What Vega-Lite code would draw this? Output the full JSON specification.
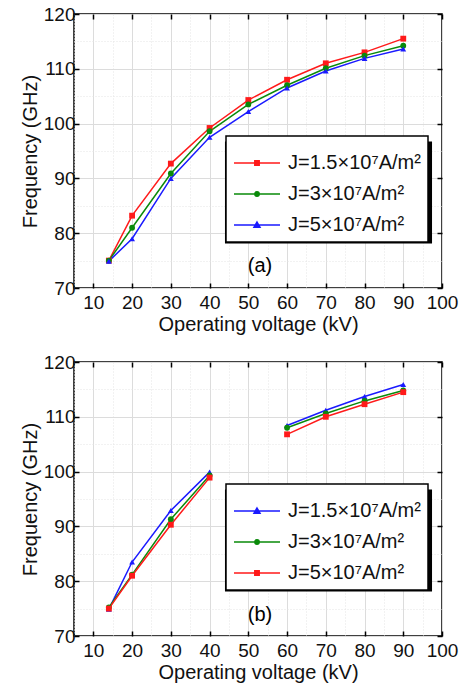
{
  "$schema": "https://vega.github.io/schema/vega-lite/v6.json",
  "background": "white",
  "padding": {"left": 19, "top": 4, "right": 7, "bottom": 5},
  "spacing": 17,
  "config": {
    "font": "Liberation Sans",
    "view": {"stroke": "black", "strokeWidth": 1.5},
    "axis": {"labelFont": "Liberation Sans", "titleFont": "Liberation Sans", "labelColor": "#111", "titleColor": "#111", "titleFontWeight": "normal"}
  },
  "datasets": {
    "a": [
      {"series": "J=1.5×10⁷A/m²", "seg": "s1", "x": 14, "y": 75.0},
      {"series": "J=1.5×10⁷A/m²", "seg": "s1", "x": 20, "y": 83.2},
      {"series": "J=1.5×10⁷A/m²", "seg": "s1", "x": 30, "y": 92.7},
      {"series": "J=1.5×10⁷A/m²", "seg": "s1", "x": 40, "y": 99.2},
      {"series": "J=1.5×10⁷A/m²", "seg": "s1", "x": 50, "y": 104.3},
      {"series": "J=1.5×10⁷A/m²", "seg": "s1", "x": 60, "y": 108.0},
      {"series": "J=1.5×10⁷A/m²", "seg": "s1", "x": 70, "y": 111.0},
      {"series": "J=1.5×10⁷A/m²", "seg": "s1", "x": 80, "y": 113.0},
      {"series": "J=1.5×10⁷A/m²", "seg": "s1", "x": 90, "y": 115.5},
      {"series": "J=3×10⁷A/m²", "seg": "s1", "x": 14, "y": 75.0},
      {"series": "J=3×10⁷A/m²", "seg": "s1", "x": 20, "y": 81.0},
      {"series": "J=3×10⁷A/m²", "seg": "s1", "x": 30, "y": 90.9},
      {"series": "J=3×10⁷A/m²", "seg": "s1", "x": 40, "y": 98.6},
      {"series": "J=3×10⁷A/m²", "seg": "s1", "x": 50, "y": 103.5},
      {"series": "J=3×10⁷A/m²", "seg": "s1", "x": 60, "y": 107.0},
      {"series": "J=3×10⁷A/m²", "seg": "s1", "x": 70, "y": 110.1},
      {"series": "J=3×10⁷A/m²", "seg": "s1", "x": 80, "y": 112.4},
      {"series": "J=3×10⁷A/m²", "seg": "s1", "x": 90, "y": 114.2},
      {"series": "J=5×10⁷A/m²", "seg": "s1", "x": 14, "y": 74.9},
      {"series": "J=5×10⁷A/m²", "seg": "s1", "x": 20, "y": 79.0},
      {"series": "J=5×10⁷A/m²", "seg": "s1", "x": 30, "y": 90.0},
      {"series": "J=5×10⁷A/m²", "seg": "s1", "x": 40, "y": 97.5},
      {"series": "J=5×10⁷A/m²", "seg": "s1", "x": 50, "y": 102.2},
      {"series": "J=5×10⁷A/m²", "seg": "s1", "x": 60, "y": 106.5},
      {"series": "J=5×10⁷A/m²", "seg": "s1", "x": 70, "y": 109.6},
      {"series": "J=5×10⁷A/m²", "seg": "s1", "x": 80, "y": 111.9},
      {"series": "J=5×10⁷A/m²", "seg": "s1", "x": 90, "y": 113.6}
    ],
    "b": [
      {"series": "J=1.5×10⁷A/m²", "seg": "low", "x": 14, "y": 74.9},
      {"series": "J=1.5×10⁷A/m²", "seg": "low", "x": 20, "y": 83.5},
      {"series": "J=1.5×10⁷A/m²", "seg": "low", "x": 30, "y": 92.9},
      {"series": "J=1.5×10⁷A/m²", "seg": "low", "x": 40, "y": 99.9},
      {"series": "J=1.5×10⁷A/m²", "seg": "high", "x": 60, "y": 108.4},
      {"series": "J=1.5×10⁷A/m²", "seg": "high", "x": 70, "y": 111.2},
      {"series": "J=1.5×10⁷A/m²", "seg": "high", "x": 80, "y": 113.7},
      {"series": "J=1.5×10⁷A/m²", "seg": "high", "x": 90, "y": 115.9},
      {"series": "J=3×10⁷A/m²", "seg": "low", "x": 14, "y": 75.2},
      {"series": "J=3×10⁷A/m²", "seg": "low", "x": 20, "y": 81.2},
      {"series": "J=3×10⁷A/m²", "seg": "low", "x": 30, "y": 91.3},
      {"series": "J=3×10⁷A/m²", "seg": "low", "x": 40, "y": 99.3},
      {"series": "J=3×10⁷A/m²", "seg": "high", "x": 60, "y": 108.0},
      {"series": "J=3×10⁷A/m²", "seg": "high", "x": 70, "y": 110.6},
      {"series": "J=3×10⁷A/m²", "seg": "high", "x": 80, "y": 112.9},
      {"series": "J=3×10⁷A/m²", "seg": "high", "x": 90, "y": 114.8},
      {"series": "J=5×10⁷A/m²", "seg": "low", "x": 14, "y": 75.0},
      {"series": "J=5×10⁷A/m²", "seg": "low", "x": 20, "y": 81.0},
      {"series": "J=5×10⁷A/m²", "seg": "low", "x": 30, "y": 90.3},
      {"series": "J=5×10⁷A/m²", "seg": "low", "x": 40, "y": 98.9},
      {"series": "J=5×10⁷A/m²", "seg": "high", "x": 60, "y": 106.8},
      {"series": "J=5×10⁷A/m²", "seg": "high", "x": 70, "y": 110.0},
      {"series": "J=5×10⁷A/m²", "seg": "high", "x": 80, "y": 112.3},
      {"series": "J=5×10⁷A/m²", "seg": "high", "x": 90, "y": 114.5}
    ],
    "la": [{"x": 53, "y": 74, "label": "(a)"}],
    "lb": [{"x": 53, "y": 73.8, "label": "(b)"}]
  },
  "resolve": {"scale": {"color": "independent", "size": "independent"}, "legend": {"color": "independent", "size": "independent"}},
  "vconcat": [
    {
      "width": 368,
      "height": 274,
      "resolve": {"axis": {"x": "independent", "y": "independent"}},
      "layer": [
        {
          "data": {"name": "la"},
          "mark": {"type": "text", "font": "Liberation Sans", "color": "black"},
          "encoding": {
            "x": {"field": "x", "type": "quantitative", "axis": null},
            "y": {"field": "y", "type": "quantitative", "axis": null},
            "text": {"field": "label"},
            "size": {"field": "label", "type": "ordinal", "scale": {"domain": ["(a)"], "range": [20, 20]},
              "legend": {"orient": "none", "legendX": 252, "legendY": 176, "title": null, "padding": 0,
                "labelExpr": "''", "labelFontSize": 1, "labelOffset": 0,
                "symbolType": "M-46.3,-22.8H46.3V22.8H-46.3Z", "symbolFillColor": "black", "symbolStrokeColor": "black", "symbolStrokeWidth": 0, "symbolOpacity": 1}}
          }
        },
        {
          "data": {"name": "a"},
          "mark": {"type": "line", "strokeWidth": 1.5},
          "encoding": {
            "x": {"field": "x", "type": "quantitative", "scale": {"domain": [5, 100], "nice": false, "zero": false},
              "axis": {"orient": "bottom", "values": [5,10,15,20,25,30,35,40,45,50,55,60,65,70,75,80,85,90,95,100],
                "labelExpr": "datum.value % 10 === 0 ? datum.label : ''", "labelFontSize": 19, "labelPadding": 10, "labelFlush": false, "labelOverlap": false,
                "grid": true,
                "gridColor": {"condition": {"test": "datum.value % 10 === 0", "value": "#dcdcdc"}, "value": "#e4e4e4"},
                "gridDash": {"condition": {"test": "datum.value % 10 === 0", "value": []}, "value": [1, 2]},
                "tickSize": -5, "tickWidth": 1.5, "tickColor": "black",
                "tickOpacity": {"condition": {"test": "datum.value % 10 === 0", "value": 1}, "value": 0},
                "domain": false, "title": "Operating voltage (kV)", "titleFontSize": 20, "titlePadding": 2}},
            "y": {"field": "y", "type": "quantitative", "scale": {"domain": [70, 120], "nice": false, "zero": false},
              "axis": {"orient": "left", "values": [70,75,80,85,90,95,100,105,110,115,120],
                "labelExpr": "datum.value % 10 === 0 ? datum.label : ''", "labelFontSize": 19, "labelPadding": 4, "labelFlush": false, "labelOverlap": false,
                "grid": true,
                "gridColor": {"condition": {"test": "datum.value % 10 === 0", "value": "#dcdcdc"}, "value": "#e4e4e4"},
                "gridDash": {"condition": {"test": "datum.value % 10 === 0", "value": []}, "value": [1, 2]},
                "tickSize": -5, "tickWidth": 1.5, "tickColor": "black",
                "tickOpacity": {"condition": {"test": "datum.value % 10 === 0", "value": 1}, "value": 0},
                "domain": false, "title": "Frequency (GHz)", "titleFontSize": 20, "titlePadding": 3}},
            "color": {"field": "series", "type": "nominal",
              "scale": {"domain": ["J=1.5×10⁷A/m²", "J=3×10⁷A/m²", "J=5×10⁷A/m²"], "range": ["#ff1a1a", "#0a8a0a", "#1a1aff"]},
              "legend": {"orient": "none", "legendX": 152, "legendY": 122, "title": " ", "titleFontSize": 4, "titlePadding": 5,
                "strokeColor": "black", "fillColor": "white", "padding": 7,
                "labelFontSize": 20, "labelFont": "Liberation Sans", "labelColor": "#111", "labelLimit": 300,
                "symbolSize": 400, "symbolOffset": 13, "labelOffset": 20, "rowPadding": 10, "symbolStrokeWidth": 1.5,
                "encode": {
                  "legend": {"update": {"strokeWidth": {"value": 1.5}}},
                  "symbols": {"update": {
                    "shape": {"signal": "datum.value === 'J=1.5×10⁷A/m²' ? 'M-2.3,0H2.3M-0.22,-0.22H0.22V0.22H-0.22Z' : datum.value === 'J=3×10⁷A/m²' ? 'M-2.3,0H2.3M0.22,0A0.22,0.22 0 1,1 -0.22,0A0.22,0.22 0 1,1 0.22,0Z' : 'M-2.3,0H2.3M0,-0.3L0.3,0.22L-0.3,0.22Z'"},
                    "fill": {"signal": "datum.value === 'J=1.5×10⁷A/m²' ? '#ff1a1a' : datum.value === 'J=3×10⁷A/m²' ? '#0a8a0a' : '#1a1aff'"},
                    "stroke": {"signal": "datum.value === 'J=1.5×10⁷A/m²' ? '#ff1a1a' : datum.value === 'J=3×10⁷A/m²' ? '#0a8a0a' : '#1a1aff'"},
                    "strokeWidth": {"value": 1.5}
                  }}
                }}},
            "detail": {"field": "seg"},
            "order": {"field": "x"}
          }
        },
        {
          "data": {"name": "a"},
          "transform": [{"filter": "datum.series === 'J=1.5×10⁷A/m²'"}],
          "mark": {"type": "point", "filled": true, "size": 34, "opacity": 1, "shape": "square", "color": "#ff1a1a"},
          "encoding": {
            "x": {"field": "x", "type": "quantitative",
              "axis": {"orient": "top", "values": [10,20,30,40,50,60,70,80,90,100], "labels": false, "grid": false, "domain": false,
                "tickSize": -5, "tickWidth": 1.5, "tickColor": "black", "title": null}},
            "y": {"field": "y", "type": "quantitative",
              "axis": {"orient": "right", "values": [70,80,90,100,110,120], "labels": false, "grid": false, "domain": false,
                "tickSize": -5, "tickWidth": 1.5, "tickColor": "black", "title": null}}
          }
        },
        {
          "data": {"name": "a"},
          "transform": [{"filter": "datum.series === 'J=3×10⁷A/m²'"}],
          "mark": {"type": "point", "filled": true, "size": 34, "opacity": 1, "shape": "circle", "color": "#0a8a0a"},
          "encoding": {
            "x": {"field": "x", "type": "quantitative", "axis": null},
            "y": {"field": "y", "type": "quantitative", "axis": null}
          }
        },
        {
          "data": {"name": "a"},
          "transform": [{"filter": "datum.series === 'J=5×10⁷A/m²'"}],
          "mark": {"type": "point", "filled": true, "size": 34, "opacity": 1, "shape": "triangle-up", "color": "#1a1aff"},
          "encoding": {
            "x": {"field": "x", "type": "quantitative", "axis": null},
            "y": {"field": "y", "type": "quantitative", "axis": null}
          }
        }
      ]
    },
    {
      "width": 368,
      "height": 274,
      "resolve": {"axis": {"x": "independent", "y": "independent"}},
      "layer": [
        {
          "data": {"name": "lb"},
          "mark": {"type": "text", "font": "Liberation Sans", "color": "black"},
          "encoding": {
            "x": {"field": "x", "type": "quantitative", "axis": null},
            "y": {"field": "y", "type": "quantitative", "axis": null},
            "text": {"field": "label"},
            "size": {"field": "label", "type": "ordinal", "scale": {"domain": ["(b)"], "range": [20, 20]},
              "legend": {"orient": "none", "legendX": 252, "legendY": 176, "title": null, "padding": 0,
                "labelExpr": "''", "labelFontSize": 1, "labelOffset": 0,
                "symbolType": "M-46.3,-22.8H46.3V22.8H-46.3Z", "symbolFillColor": "black", "symbolStrokeColor": "black", "symbolStrokeWidth": 0, "symbolOpacity": 1}}
          }
        },
        {
          "data": {"name": "b"},
          "mark": {"type": "line", "strokeWidth": 1.5},
          "encoding": {
            "x": {"field": "x", "type": "quantitative", "scale": {"domain": [5, 100], "nice": false, "zero": false},
              "axis": {"orient": "bottom", "values": [5,10,15,20,25,30,35,40,45,50,55,60,65,70,75,80,85,90,95,100],
                "labelExpr": "datum.value % 10 === 0 ? datum.label : ''", "labelFontSize": 19, "labelPadding": 10, "labelFlush": false, "labelOverlap": false,
                "grid": true,
                "gridColor": {"condition": {"test": "datum.value % 10 === 0", "value": "#dcdcdc"}, "value": "#e4e4e4"},
                "gridDash": {"condition": {"test": "datum.value % 10 === 0", "value": []}, "value": [1, 2]},
                "tickSize": -5, "tickWidth": 1.5, "tickColor": "black",
                "tickOpacity": {"condition": {"test": "datum.value % 10 === 0", "value": 1}, "value": 0},
                "domain": false, "title": "Operating voltage (kV)", "titleFontSize": 20, "titlePadding": 2}},
            "y": {"field": "y", "type": "quantitative", "scale": {"domain": [70, 120], "nice": false, "zero": false},
              "axis": {"orient": "left", "values": [70,75,80,85,90,95,100,105,110,115,120],
                "labelExpr": "datum.value % 10 === 0 ? datum.label : ''", "labelFontSize": 19, "labelPadding": 4, "labelFlush": false, "labelOverlap": false,
                "grid": true,
                "gridColor": {"condition": {"test": "datum.value % 10 === 0", "value": "#dcdcdc"}, "value": "#e4e4e4"},
                "gridDash": {"condition": {"test": "datum.value % 10 === 0", "value": []}, "value": [1, 2]},
                "tickSize": -5, "tickWidth": 1.5, "tickColor": "black",
                "tickOpacity": {"condition": {"test": "datum.value % 10 === 0", "value": 1}, "value": 0},
                "domain": false, "title": "Frequency (GHz)", "titleFontSize": 20, "titlePadding": 3}},
            "color": {"field": "series", "type": "nominal",
              "scale": {"domain": ["J=1.5×10⁷A/m²", "J=3×10⁷A/m²", "J=5×10⁷A/m²"], "range": ["#1a1aff", "#0a8a0a", "#ff1a1a"]},
              "legend": {"orient": "none", "legendX": 152, "legendY": 122, "title": " ", "titleFontSize": 4, "titlePadding": 5,
                "strokeColor": "black", "fillColor": "white", "padding": 7,
                "labelFontSize": 20, "labelFont": "Liberation Sans", "labelColor": "#111", "labelLimit": 300,
                "symbolSize": 400, "symbolOffset": 13, "labelOffset": 20, "rowPadding": 10, "symbolStrokeWidth": 1.5,
                "encode": {
                  "legend": {"update": {"strokeWidth": {"value": 1.5}}},
                  "symbols": {"update": {
                    "shape": {"signal": "datum.value === 'J=5×10⁷A/m²' ? 'M-2.3,0H2.3M-0.22,-0.22H0.22V0.22H-0.22Z' : datum.value === 'J=3×10⁷A/m²' ? 'M-2.3,0H2.3M0.22,0A0.22,0.22 0 1,1 -0.22,0A0.22,0.22 0 1,1 0.22,0Z' : 'M-2.3,0H2.3M0,-0.3L0.3,0.22L-0.3,0.22Z'"},
                    "fill": {"signal": "datum.value === 'J=5×10⁷A/m²' ? '#ff1a1a' : datum.value === 'J=3×10⁷A/m²' ? '#0a8a0a' : '#1a1aff'"},
                    "stroke": {"signal": "datum.value === 'J=5×10⁷A/m²' ? '#ff1a1a' : datum.value === 'J=3×10⁷A/m²' ? '#0a8a0a' : '#1a1aff'"},
                    "strokeWidth": {"value": 1.5}
                  }}
                }}},
            "detail": {"field": "seg"},
            "order": {"field": "x"}
          }
        },
        {
          "data": {"name": "b"},
          "transform": [{"filter": "datum.series === 'J=1.5×10⁷A/m²'"}],
          "mark": {"type": "point", "filled": true, "size": 34, "opacity": 1, "shape": "triangle-up", "color": "#1a1aff"},
          "encoding": {
            "x": {"field": "x", "type": "quantitative",
              "axis": {"orient": "top", "values": [10,20,30,40,50,60,70,80,90,100], "labels": false, "grid": false, "domain": false,
                "tickSize": -5, "tickWidth": 1.5, "tickColor": "black", "title": null}},
            "y": {"field": "y", "type": "quantitative",
              "axis": {"orient": "right", "values": [70,80,90,100,110,120], "labels": false, "grid": false, "domain": false,
                "tickSize": -5, "tickWidth": 1.5, "tickColor": "black", "title": null}}
          }
        },
        {
          "data": {"name": "b"},
          "transform": [{"filter": "datum.series === 'J=3×10⁷A/m²'"}],
          "mark": {"type": "point", "filled": true, "size": 34, "opacity": 1, "shape": "circle", "color": "#0a8a0a"},
          "encoding": {
            "x": {"field": "x", "type": "quantitative", "axis": null},
            "y": {"field": "y", "type": "quantitative", "axis": null}
          }
        },
        {
          "data": {"name": "b"},
          "transform": [{"filter": "datum.series === 'J=5×10⁷A/m²'"}],
          "mark": {"type": "point", "filled": true, "size": 34, "opacity": 1, "shape": "square", "color": "#ff1a1a"},
          "encoding": {
            "x": {"field": "x", "type": "quantitative", "axis": null},
            "y": {"field": "y", "type": "quantitative", "axis": null}
          }
        }
      ]
    }
  ]
}
